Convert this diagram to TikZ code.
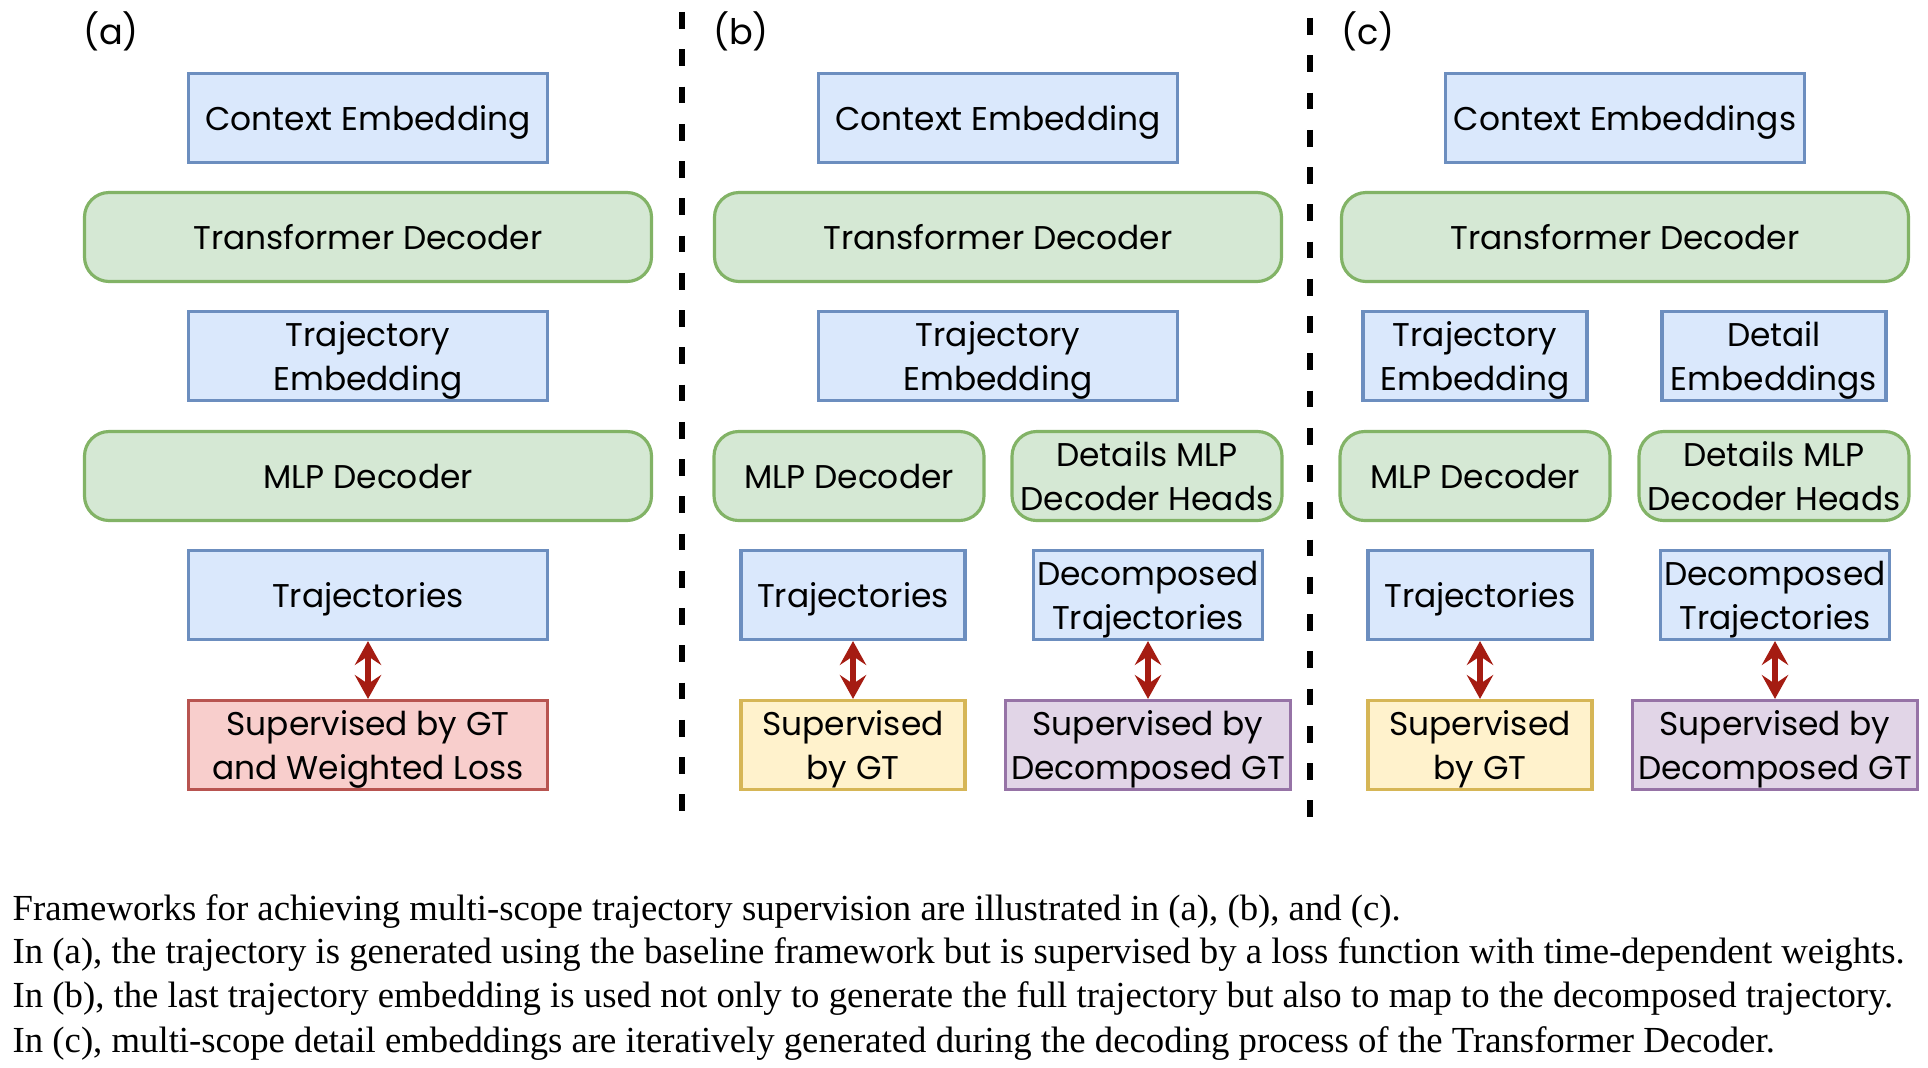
\documentclass[tikz,border=0pt]{standalone}
\usepackage{fontspec}
\setmainfont{Liberation Serif}
\newfontfamily\diagfont{Poppins}
\usetikzlibrary{arrows.meta}

\definecolor{embfill}{HTML}{DAE8FC}
\definecolor{embline}{HTML}{6C8EBF}
\definecolor{decfill}{HTML}{D5E8D4}
\definecolor{decline}{HTML}{82B366}
\definecolor{gtfill}{HTML}{FFF2CC}
\definecolor{gtline}{HTML}{D6B656}
\definecolor{dgtfill}{HTML}{E1D5E7}
\definecolor{dgtline}{HTML}{9673A6}
\definecolor{wlfill}{HTML}{F8CECC}
\definecolor{wlline}{HTML}{B85450}
\definecolor{arrowred}{RGB}{165,28,18}

\tikzset{
    embbox/.style={draw=embline, fill=embfill, line width=0.9pt, minimum height=0.89cm,
        inner sep=1pt, align=center, text depth=0pt, font=\diagfont\fontsize{9.35}{12.5}\selectfont},
    decbox/.style={embbox, draw=decline, fill=decfill, rounded corners=7pt},
    gtbox/.style={embbox, draw=gtline, fill=gtfill},
    dgtbox/.style={embbox, draw=dgtline, fill=dgtfill},
    wlbox/.style={embbox, draw=wlline, fill=wlfill},
    panellabel/.style={font=\diagfont\fontsize{10}{12}\selectfont},
    suparrow/.style={{Stealth[length=6.8pt,width=7.5pt,inset=2.5pt]}-{Stealth[length=6.8pt,width=7.5pt,inset=2.5pt]},
        draw=arrowred, fill=arrowred, line width=1.7pt},
    sepline/.style={line width=1.45pt, dash pattern=on 4.8pt off 5.8pt},
    capline/.style={anchor=west, inner sep=0pt, font=\fontsize{10.45}{12.5}\selectfont},
}

\begin{document}
\begin{tikzpicture}
    \useasboundingbox (0,-10.68) rectangle (19.28,0);

    % rows shared by all three panels
    \foreach \x/\lab/\ctx in {3.68/a/Context Embedding,9.98/b/Context Embedding,16.25/c/Context Embeddings} {
            \node[panellabel] (lab-\lab) at (\x-2.57,-0.31) {(\lab)};
            \node[embbox, minimum width=3.59cm] (ctx-\lab) at (\x,-1.18) {\ctx};
            \node[decbox, minimum width=5.67cm] (tfd-\lab) at (\x,-2.37) {Transformer Decoder};
        }

    % panel (a)
    \node[embbox, minimum width=3.59cm] (emb-a) at (3.68,-3.56) {Trajectory\\Embedding};
    \node[decbox, minimum width=5.67cm] (mlp-a) at (3.68,-4.76) {MLP Decoder};
    \node[embbox, minimum width=3.59cm] (trj-a) at (3.68,-5.95) {Trajectories};
    \node[wlbox, minimum width=3.59cm] (sup-a) at (3.68,-7.45) {Supervised by GT\\and Weighted Loss};
    \draw[suparrow] (trj-a) -- (sup-a);

    % panel (b)
    \node[embbox, minimum width=3.59cm] (emb-b) at (9.98,-3.56) {Trajectory\\Embedding};
    \node[decbox, minimum width=2.70cm] (mlp-b) at (8.49,-4.76) {MLP Decoder};
    \node[decbox, minimum width=2.70cm] (dmlp-b) at (11.47,-4.76) {Details MLP\\Decoder Heads};
    \node[embbox, minimum width=2.24cm] (trj-b) at (8.53,-5.95) {Trajectories};
    \node[embbox, minimum width=2.24cm] (dtr-b) at (11.48,-5.95) {Decomposed\\Trajectories};
    \node[gtbox, minimum width=2.24cm] (sup-b) at (8.53,-7.45) {Supervised\\by GT};
    \node[dgtbox, minimum width=2.85cm] (dsup-b) at (11.48,-7.45) {Supervised by\\Decomposed GT};
    \draw[suparrow] (trj-b) -- (sup-b);
    \draw[suparrow] (dtr-b) -- (dsup-b);

    % panel (c)
    \node[embbox, minimum width=2.24cm] (emb-c) at (14.75,-3.56) {Trajectory\\Embedding};
    \node[embbox, minimum width=2.24cm] (demb-c) at (17.74,-3.56) {Detail\\Embeddings};
    \node[decbox, minimum width=2.70cm] (mlp-c) at (14.75,-4.76) {MLP Decoder};
    \node[decbox, minimum width=2.70cm] (dmlp-c) at (17.74,-4.76) {Details MLP\\Decoder Heads};
    \node[embbox, minimum width=2.24cm] (trj-c) at (14.80,-5.95) {Trajectories};
    \node[embbox, minimum width=2.24cm] (dtr-c) at (17.75,-5.95) {Decomposed\\Trajectories};
    \node[gtbox, minimum width=2.24cm] (sup-c) at (14.80,-7.45) {Supervised\\by GT};
    \node[dgtbox, minimum width=2.85cm] (dsup-c) at (17.75,-7.45) {Supervised by\\Decomposed GT};
    \draw[suparrow] (trj-c) -- (sup-c);
    \draw[suparrow] (dtr-c) -- (dsup-c);

    % separators
    \draw[sepline] (6.82,-0.12) -- (6.82,-8.18);
    \draw[sepline] (13.10,-0.18) -- (13.10,-8.24);

    % caption
    \node[capline] (cap1) at (0.12,-9.12) {Frameworks for achieving multi-scope trajectory supervision are illustrated in (a), (b), and (c).};
    \node[capline] (cap2) at (0.12,-9.55) {In (a), the trajectory is generated using the baseline framework but is supervised by a loss function with time-dependent weights.};
    \node[capline] (cap3) at (0.12,-9.99) {In (b), the last trajectory embedding is used not only to generate the full trajectory but also to map to the decomposed trajectory.};
    \node[capline] (cap4) at (0.12,-10.44) {In (c), multi-scope detail embeddings are iteratively generated during the decoding process of the Transformer Decoder.};
\end{tikzpicture}
\end{document}
